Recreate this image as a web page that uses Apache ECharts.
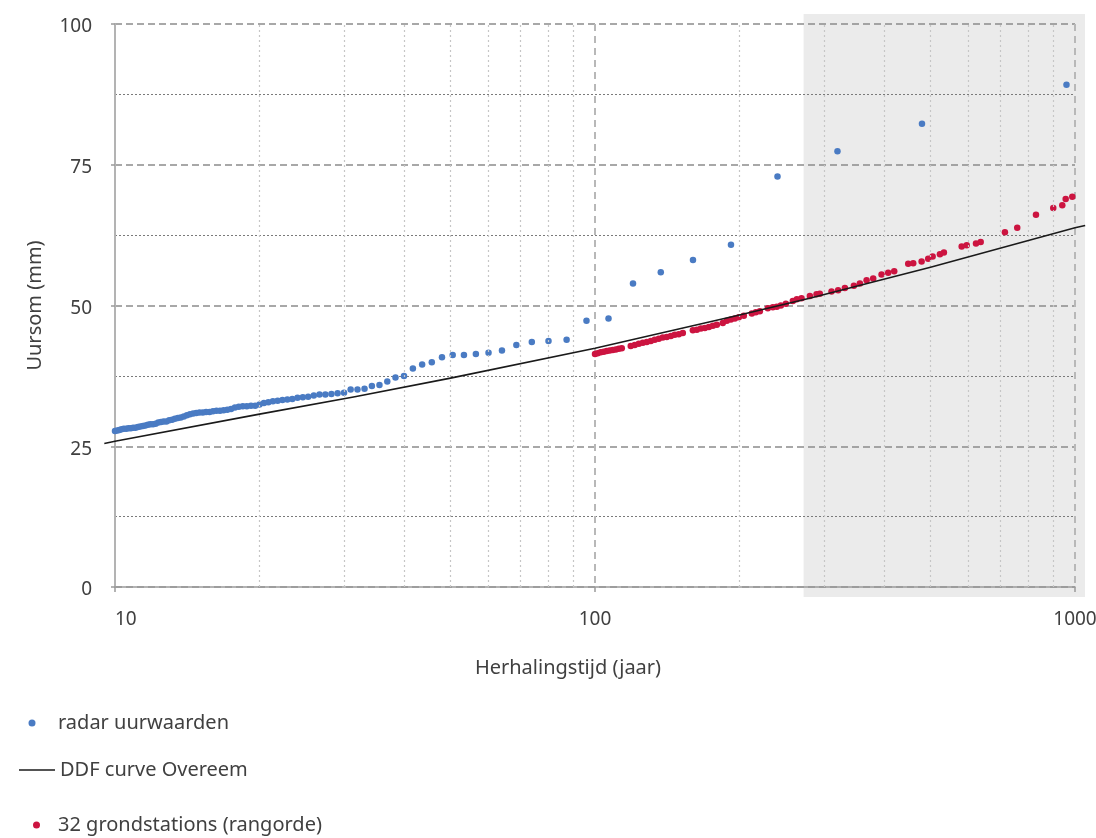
<!DOCTYPE html>
<html><head><meta charset="utf-8">
<script src="https://cdn.jsdelivr.net/npm/echarts@6/dist/echarts.min.js"></script>
<style>html,body{margin:0;padding:0;background:#fff}#chart{width:1096px;height:838px}</style>
</head><body><div id="chart"></div>
<script>
// ---- data ----
const radarT = [960, 480, 320, 240, 192, 160, 137.1, 120, 106.7, 96, 87.27, 80, 73.85, 68.57, 64, 60, 56.47, 53.33, 50.53, 48,
  45.71, 43.64, 41.74, 40, 38.4, 36.92, 35.56, 34.29, 33.1, 32, 30.97, 30, 29.09, 28.24, 27.43, 26.67, 25.95, 25.26, 24.62, 24,
  23.41, 22.86, 22.33, 21.82, 21.33, 20.87, 20.43, 20, 19.59, 19.2, 18.82, 18.46, 18.11, 17.78, 17.45, 17.14, 16.84, 16.55, 16.27, 16,
  15.74, 15.48, 15.24, 15, 14.77, 14.55, 14.33, 14.12, 13.91, 13.71, 13.52, 13.33, 13.15, 12.97, 12.8, 12.63, 12.47, 12.31, 12.15, 12,
  11.85, 11.71, 11.57, 11.43, 11.29, 11.16, 11.03, 10.91, 10.79, 10.67, 10.55, 10.43, 10.32, 10.21, 10.11, 10];
const radarValues = [89.2, 82.3, 77.4, 72.9, 60.8, 58.1, 55.9, 53.9, 47.7, 47.3, 43.9, 43.7, 43.5, 43.0, 42.0, 41.6, 41.4, 41.2, 41.2, 40.8,
  39.9, 39.5, 38.8, 37.5, 37.2, 36.5, 35.9, 35.7, 35.2, 35.1, 35.1, 34.5, 34.4, 34.3, 34.2, 34.2, 34.0, 33.8, 33.7, 33.6,
  33.4, 33.3, 33.2, 33.1, 33.0, 32.8, 32.7, 32.4, 32.2, 32.2, 32.1, 32.1, 32.0, 31.9, 31.6, 31.5, 31.4, 31.3, 31.3, 31.2,
  31.1, 31.1, 31.0, 31.0, 30.9, 30.8, 30.7, 30.5, 30.3, 30.1, 30.0, 29.9, 29.7, 29.6, 29.4, 29.4, 29.3, 29.2, 29.0, 28.9,
  28.9, 28.8, 28.7, 28.6, 28.5, 28.4, 28.3, 28.3, 28.2, 28.2, 28.1, 28.1, 28.0, 27.9, 27.8, 27.7];

const stationT = [100, 101.3, 102.8, 104.3, 105.8, 107.3, 108.9, 110.5, 112.1, 113.7,
  118.7, 121, 123.4, 125.8, 128.2, 130.7, 133.2, 135.8, 138.4, 141.1, 143.9, 146.6, 149.5, 152.4,
  159.9, 163, 166.2, 169.4, 172.7, 176, 179.4, 184.6, 188.2, 191.9, 195.6, 199.4,
  204.2, 212.2, 216.3, 220.5, 229.1, 234.7, 239.2, 243.9, 249.8, 258.3, 263.3, 269.3,
  280.3, 289.4, 294, 311, 321, 331.6, 346.2, 356.3, 368, 379.8, 395.4, 408.1, 420.1,
  449.3, 460.2, 479.1, 494.5, 505.1, 523.1, 533.2, 580.7, 594.8, 621.9, 636.1,
  714.5, 758, 829.3, 901, 940.8, 956.3, 987.1];
const stationValues = [41.4, 41.5, 41.7, 41.8, 41.9, 42.0, 42.1, 42.2, 42.3, 42.4,
  42.8, 43.0, 43.2, 43.4, 43.5, 43.7, 43.9, 44.1, 44.3, 44.4, 44.6, 44.8, 44.9, 45.1,
  45.6, 45.7, 45.9, 46.0, 46.2, 46.4, 46.6, 46.9, 47.3, 47.5, 47.7, 47.9,
  48.2, 48.6, 48.8, 49.0, 49.5, 49.7, 49.8, 50.0, 50.3, 50.8, 51.1, 51.3,
  51.7, 52.0, 52.1, 52.5, 52.7, 53.1, 53.5, 53.9, 54.5, 54.8, 55.5, 55.8, 56.1,
  57.4, 57.5, 57.8, 58.3, 58.7, 59.1, 59.4, 60.5, 60.7, 61.0, 61.3,
  63.0, 63.8, 66.1, 67.3, 67.8, 68.9, 69.3];

const ddfT = [9.5, 10, 20, 31.6, 50, 100, 200, 280, 500, 1000, 1050];
const ddfValues = [25.5, 25.9, 30.7, 33.8, 37.1, 42.4, 48.3, 51.3, 56.8, 63.8, 64.2];

const seriesNames = ['radar uurwaarden', 'DDF curve Overeem', '32 grondstations (rangorde)'];
const xRange = [10, 1000];
const yRange = [0, 100];
const yInterval = 25;
const minorGridT = [20, 30, 40, 50, 60, 70, 80, 90, 200, 300, 400, 500, 600, 700, 800, 900];
const shadeFromT = 272;

// ---- chart ----
const FONT = '"Noto Sans", "Open Sans", sans-serif';
const TXT = '#404040';
const LINE_COLOR = '#1a1a1a';
const pairs = (xs, ys) => xs.map((x, i) => [x, ys[i]]);

const chart = echarts.init(document.getElementById('chart'), null, {renderer: 'canvas'});
chart.setOption({
  animation: false,
  textStyle: {fontFamily: FONT},
  grid: {left: 115, top: 24, width: 960, height: 563, containLabel: false, outerBoundsMode: 'none'},
  xAxis: {
    type: 'log', logBase: 10, min: xRange[0], max: xRange[1],
    axisLine: {show: true, onZero: false, lineStyle: {color: '#9a9a9a', width: 1.5}},
    axisTick: {show: true, length: 5, lineStyle: {color: '#9a9a9a', width: 1.5}},
    axisLabel: {color: TXT, fontSize: 19, fontFamily: FONT, margin: 23, alignMinLabel: 'left',
      formatter: v => String(Math.round(v))},
    splitLine: {show: true, lineStyle: {color: '#b8b8b8', width: 2, type: [7, 5]}},
    minorTick: {show: false}, minorSplitLine: {show: false},
    name: 'Herhalingstijd (jaar)', nameLocation: 'middle', nameGap: 71,
    nameTextStyle: {color: TXT, fontSize: 20, fontFamily: FONT, padding: [0, 54, 0, 0]}
  },
  yAxis: {
    type: 'value', min: yRange[0], max: yRange[1], interval: yInterval,
    axisLine: {show: true, lineStyle: {color: '#b3b3b3', width: 2}},
    axisTick: {show: true, length: 4, lineStyle: {color: '#9a9a9a', width: 1.5}},
    axisLabel: {color: TXT, fontSize: 19, fontFamily: FONT, margin: 23, verticalAlign: 'top', lineHeight: 6},
    splitLine: {show: true, lineStyle: {color: '#8c8c8c', width: 1.5, type: [7, 4]}},
    minorTick: {show: false, splitNumber: 2},
    minorSplitLine: {show: true, lineStyle: {color: '#7a7a7a', width: 1, type: [2, 2]}},
    name: 'Uursom (mm)', nameLocation: 'middle', nameGap: 70,
    nameTextStyle: {color: TXT, fontSize: 20, fontFamily: FONT}
  },
  legend: [
    {data: [{name: seriesNames[0], icon: 'circle'}], selectedMode: false, orient: 'vertical', padding: 0,
     left: 28.5, top: 713, itemWidth: 42, itemHeight: 7, textStyle: {color: TXT, fontSize: 20, fontFamily: FONT}},
    {data: [{name: seriesNames[1], icon: 'rect'}], selectedMode: false, orient: 'vertical', padding: 0,
     left: 19, top: 760, itemWidth: 36, itemHeight: 1.5, textStyle: {color: TXT, fontSize: 20, fontFamily: FONT}},
    {data: [{name: seriesNames[2], icon: 'circle'}], selectedMode: false, orient: 'vertical', padding: 0,
     left: 33, top: 815, itemWidth: 33, itemHeight: 7, textStyle: {color: TXT, fontSize: 20, fontFamily: FONT}}
  ],
  series: [
    {
      name: 'minor grid', type: 'line', data: [], z: 1, silent: true,
      markLine: {
        silent: true, animation: false, symbol: ['none', 'none'], label: {show: false},
        emphasis: {disabled: true},
        lineStyle: {color: '#c6c6c6', width: 1.2, type: [2, 3]},
        data: minorGridT.map(t => ({xAxis: t}))
      }
    },
    {
      name: seriesNames[0], type: 'scatter', z: 3, symbol: 'circle', symbolSize: 6.5,
      itemStyle: {color: '#4a7bc3', opacity: 1}, data: pairs(radarT, radarValues)
    },
    {
      name: seriesNames[2], type: 'scatter', z: 3, symbol: 'circle', symbolSize: 6.5,
      itemStyle: {color: '#cc1440', opacity: 1}, data: pairs(stationT, stationValues)
    },
    {
      // the curve itself is stroked below (it runs slightly past the axis ends, as in the source)
      name: seriesNames[1], type: 'line', z: 4, clip: false, showSymbol: false, symbol: 'none',
      lineStyle: {color: LINE_COLOR, width: 1.6, opacity: 0}, itemStyle: {color: LINE_COLOR},
      data: pairs(ddfT, ddfValues)
    }
  ]
});

const x0 = chart.convertToPixel({xAxisIndex: 0}, shadeFromT);
const x1 = chart.convertToPixel({xAxisIndex: 0}, xRange[1]);
const yTop = chart.convertToPixel({yAxisIndex: 0}, yRange[1]);
const yBot = chart.convertToPixel({yAxisIndex: 0}, yRange[0]);
const ddfPixels = ddfT.map((t, i) => chart.convertToPixel({gridIndex: 0}, [t, ddfValues[i]]));
chart.setOption({
  graphic: [
    {
      type: 'rect', z: -10, silent: true,
      shape: {x: x0, y: yTop - 10, width: x1 + 10 - x0, height: yBot - yTop + 20},
      style: {fill: '#ebebeb'}
    },
    {
      type: 'polyline', z: 10, silent: true,
      shape: {points: ddfPixels},
      style: {stroke: LINE_COLOR, lineWidth: 1.6, fill: null}
    }
  ]
});
</script>
</body></html>
